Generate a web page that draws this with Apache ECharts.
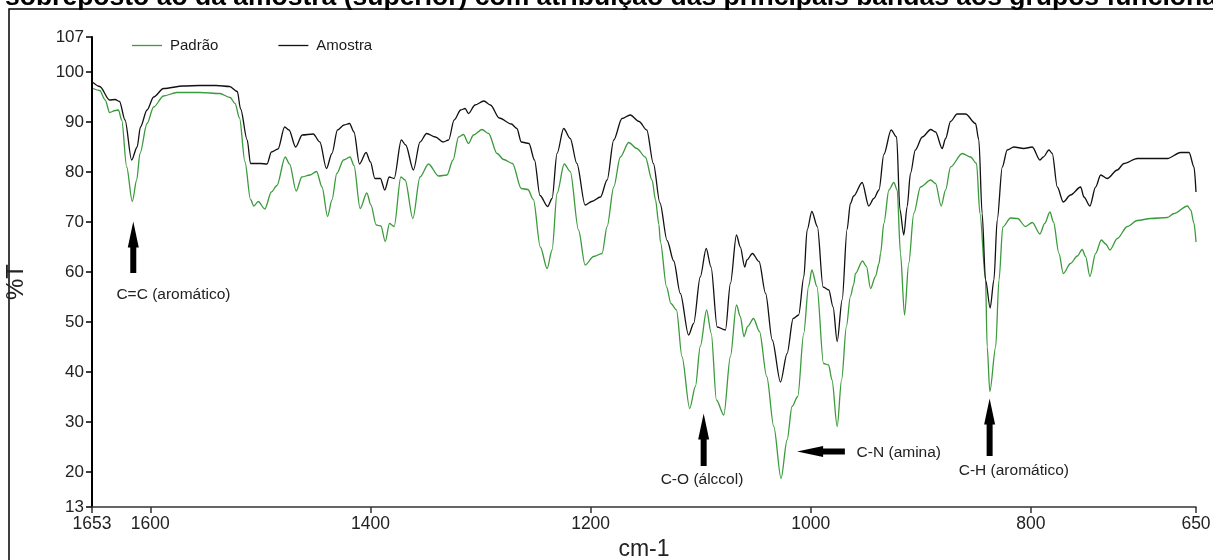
<!DOCTYPE html>
<html>
<head>
<meta charset="utf-8">
<script src="https://cdn.jsdelivr.net/npm/echarts@6/dist/echarts.min.js"></script>
<style>
  html, body { margin: 0; padding: 0; background: #fff; }
  #chart { width: 1213px; height: 560px; }
</style>
</head>
<body>
<div id="chart"></div>
<script>
// Amostra (black) - wavenumber (cm-1) / %T
const amostraWn = [1652, 1646, 1637, 1632, 1628, 1623, 1617, 1612, 1609, 1603, 1597, 1588, 1570, 1555, 1540, 1528, 1521, 1518, 1512, 1509,
  1500, 1494, 1490, 1484, 1478, 1474, 1468, 1462, 1452, 1446, 1440, 1435, 1430, 1424, 1419, 1415, 1410, 1404, 1400, 1396,
  1391, 1387, 1383, 1378.5, 1372, 1368, 1361, 1355, 1349, 1341, 1334, 1329, 1324, 1318, 1314, 1311, 1305, 1297, 1291, 1283,
  1272, 1267, 1263, 1256, 1251, 1246, 1239, 1235, 1230.5, 1224.5, 1218.5, 1212.5, 1205, 1199, 1191, 1185, 1179, 1171.5, 1164, 1156,
  1149, 1143, 1137, 1130.5, 1124.5, 1118.5, 1111, 1106.4, 1100.4, 1095, 1090.6, 1085, 1077.5, 1073, 1067.5, 1064, 1060, 1058, 1053, 1047,
  1041, 1035, 1027.5, 1021.5, 1016, 1011, 1006.3, 1003.3, 999, 994, 988.8, 983.6, 979.7, 976, 971.5, 967, 964, 961, 953.3, 947.3,
  942.7, 938, 933.6, 927, 922, 919, 915.5, 912.4, 909.4, 905, 898.7, 891, 886.6, 880.6, 877.5, 873, 867, 859.4, 850.3, 847.3,
  844.3, 841.2, 837, 833.6, 830.6, 826, 821.5, 815.5, 806.4, 798.7, 791.8, 788.7, 783.6, 780.6, 776, 770.6, 764, 754.8, 751.8, 746.4,
  741.2, 736.6, 730.6, 721.5, 715.5, 703.3, 676, 664, 656.3, 651.8, 650];
const amostraT = [97.9, 97.1, 94.4, 94.5, 94.1, 90.4, 82.4, 85, 89, 92.4, 95, 96.7, 97.2, 97.3, 97.3, 97.1, 96.1, 92.6, 86.4, 81.7,
  81.7, 81.6, 84, 84.6, 89, 88.4, 85, 87.4, 87.6, 86, 80.7, 83.7, 88.4, 89.4, 89.7, 88, 81.6, 83.9, 82, 78.7,
  78.7, 76.4, 79, 78.7, 86.4, 85.4, 80.4, 86, 87.7, 87, 86, 86.4, 90.4, 92.4, 92.7, 91.7, 93.4, 94.2, 93.4, 90.8,
  89.6, 88.7, 86, 85.7, 82.4, 75.3, 73.1, 74.7, 83.7, 88.7, 86.7, 81.7, 73.4, 74.1, 75, 78.4, 86.4, 90.7, 91.4, 90.1,
  88.4, 81.7, 73.8, 66.3, 62.2, 55.7, 47.4, 49.7, 59, 64.7, 61, 49, 48.4, 57.7, 67.4, 65, 61, 62.4, 63.7, 62.1,
  55.7, 46.4, 38, 43.7, 50.7, 51.4, 59, 68.4, 72.1, 69.1, 57, 56.4, 53, 46.1, 54.4, 68.5, 73.7, 75.2, 77.9, 73.2,
  74.7, 76.4, 83.5, 88.4, 87, 72.5, 67.4, 73.1, 79.7, 84.4, 87, 88.5, 88, 84.7, 86.7, 90.1, 91.6, 91.6, 89.7, 86.4,
  71.7, 58.4, 52.8, 58.4, 70.4, 81, 84.4, 85, 84.7, 85, 82.4, 83, 84.4, 83.7, 77, 74, 75.4, 77, 75, 73.2,
  77, 79.4, 78.7, 80.4, 81.7, 82.7, 82.7, 83.9, 83.9, 81, 76];

// Padrao (green)
const padraoWn = [1652, 1646, 1641, 1637, 1632, 1629, 1626, 1621.5, 1616.4, 1612.4, 1609.4, 1603, 1597, 1588, 1576, 1555, 1537, 1527.5, 1523, 1519,
  1514, 1509, 1506, 1502, 1496, 1490, 1485, 1477.5, 1473.5, 1467.5, 1462.4, 1455, 1449, 1444, 1439, 1435, 1430.6, 1424.5, 1418.5, 1415,
  1409.4, 1403.3, 1399.6, 1394.8, 1390.5, 1386.6, 1382.7, 1378.5, 1372.4, 1368.5, 1361.5, 1355, 1347.3, 1338.2, 1330.5, 1325, 1320, 1315.5, 1311, 1306.4,
  1298.7, 1292.7, 1285, 1279, 1271, 1263, 1257, 1252, 1245.7, 1239.5, 1235, 1230.5, 1224, 1218.5, 1211, 1205, 1197.3, 1189.6, 1185, 1179,
  1173, 1165.4, 1158, 1150.3, 1144.2, 1141, 1138, 1136.6, 1131, 1127, 1122, 1117, 1110, 1104.8, 1100.4, 1094.6, 1090.4, 1085.7, 1079, 1073,
  1067.5, 1064, 1060.7, 1057.3, 1052, 1046.6, 1040, 1033.6, 1027, 1021.5, 1017, 1011.8, 1006.4, 1002, 999, 994.4, 988.4, 983.8, 980.7, 976,
  972, 967.6, 964, 961, 959.4, 953, 949.4, 945.7, 941.2, 938, 936.6, 933.6, 929, 924.5, 921.5, 918.5, 914.8, 911, 906.4, 900.3,
  891, 886.6, 881.5, 877.5, 873, 862.4, 854.8, 849.4, 846.3, 841.2, 839.7, 837.3, 832, 829, 825.5, 818.5, 812, 805, 798.7, 791.8,
  787.5, 782.7, 779.5, 774.5, 770.6, 764, 757.8, 753.4, 750.3, 746.4, 741.2, 736, 732, 728.2, 721.5, 712.4, 703.3, 691.2, 676, 670,
  657.8, 654.8, 651.8, 650];
const padraoT = [96.7, 96.3, 94.4, 91.9, 92.3, 92.4, 90.4, 81, 74.1, 78.4, 83.7, 89.7, 93, 95.2, 95.9, 95.9, 95.7, 94.9, 93.7, 90.8,
  82, 74.5, 73.2, 74.1, 72.6, 76, 77.3, 83, 81.6, 76.2, 79, 79.4, 80.1, 77, 71.1, 74.4, 79.7, 82.4, 83, 81.3,
  72.7, 75.8, 73.4, 69.4, 69.2, 66.1, 69.7, 69.1, 79, 78.4, 70.7, 79, 81.6, 79.2, 79.4, 82.4, 87, 87.5, 85.7, 87.4,
  88.5, 87.7, 83.7, 82.5, 81.7, 76.7, 76.5, 74.5, 65, 60.7, 64.4, 75.7, 81.6, 80.1, 68.4, 61.4, 63.1, 63.7, 69.1, 77,
  83, 85.9, 84.7, 83, 78.4, 74.4, 69.5, 66, 57, 53.7, 52.4, 43.1, 32.7, 37.1, 45.1, 52.4, 47.7, 34.4, 31.4, 43.1,
  53.4, 51.1, 47.1, 49.1, 50.7, 48.1, 39.1, 29.1, 18.7, 26.4, 33.1, 35.1, 47.7, 57.1, 60.4, 57.1, 41.7, 41.4, 38.4, 29.1,
  38.4, 49.1, 55.1, 57.5, 59.7, 62.2, 61.1, 56.7, 59.1, 61.7, 63.7, 69.7, 76.4, 77.9, 76.4, 63.7, 51.4, 61.7, 71.7, 77,
  78.4, 77.7, 73.2, 76.4, 81, 83.7, 83, 81.7, 71.7, 58.4, 45, 36.1, 45, 58.4, 69, 70.8, 70.7, 69.1, 69.9, 67.6,
  69.7, 72, 70, 63.7, 59.7, 61.7, 63.2, 64.5, 63.1, 59.1, 63.7, 66.4, 65.6, 64.4, 66.7, 69.1, 70.3, 70.7, 70.9, 71.7,
  73.2, 72.4, 69.7, 66];

// tick labels
const xTicks = [1653, 1600, 1400, 1200, 1000, 800, 650];
const yTicks = [13, 20, 30, 40, 50, 60, 70, 80, 90, 100, 107];

// band assignments: arrow tail -> tip, label anchor (data coords)
const bandNames = ['C=C (aromático)', 'C-O (álccol)', 'C-N (amina)', 'C-H (aromático)'];
const bandTailWn = [1615.5, 1097.3, 969, 837.5];
const bandTailT = [59.8, 21.2, 24.1, 23.2];
const bandTipWn = [1615.5, 1097.3, 1012.4, 837.5];
const bandTipT = [70.1, 31.7, 24.1, 34.7];
const bandLabelWn = [1579, 1098.8, 920, 815.5];
const bandLabelT = [55.4, 18.4, 23.9, 20.3];

const sans = '"Liberation Sans", Arial, sans-serif';

const zip = (a, b) => a.map((v, i) => [v, b[i]]);
const bands = bandNames.map((n, i) => [bandTailWn[i], bandTailT[i], bandTipWn[i], bandTipT[i], bandLabelWn[i], bandLabelT[i]]);

function renderArrow(params, api) {
  const tail = api.coord([api.value(0), api.value(1)]);
  const tip = api.coord([api.value(2), api.value(3)]);
  const lab = api.coord([api.value(4), api.value(5)]);
  const dx = tip[0] - tail[0], dy = tip[1] - tail[1];
  const len = Math.sqrt(dx * dx + dy * dy) || 1;
  const ux = dx / len, uy = dy / len;
  const nx = -uy, ny = ux;
  const HL = 26, HW = 5.5, SW = 3;
  const bx = tip[0] - ux * HL, by = tip[1] - uy * HL;
  const pts = [
    [tip[0], tip[1]],
    [bx + nx * HW, by + ny * HW],
    [bx + nx * SW, by + ny * SW],
    [tail[0] + nx * SW, tail[1] + ny * SW],
    [tail[0] - nx * SW, tail[1] - ny * SW],
    [bx - nx * SW, by - ny * SW],
    [bx - nx * HW, by - ny * HW]
  ];
  return {
    type: 'group',
    children: [
      { type: 'polygon', shape: { points: pts }, style: { fill: '#000' } },
      {
        type: 'text',
        style: {
          x: lab[0], y: lab[1], text: bandNames[params.dataIndex],
          fill: '#222', font: '15.5px ' + sans,
          align: 'center', verticalAlign: 'middle'
        }
      }
    ]
  };
}

const chart = echarts.init(document.getElementById('chart'));
chart.setOption({
  backgroundColor: '#fff',
  animation: false,
  title: {
    text: 'sobreposto ao da amostra (superior) com atribuição das principais bandas aos grupos funcionais',
    left: 0,
    top: -21,
    textStyle: { fontFamily: sans, fontWeight: 'bold', fontSize: 26.5, color: '#000' }
  },
  graphic: [{
    type: 'rect', z: -1, silent: true,
    shape: { x: 9, y: 9, width: 1300, height: 700 },
    style: { fill: 'none', stroke: '#000', lineWidth: 1.5 }
  }],
  legend: {
    data: ['Padrão', 'Amostra'],
    left: 127, top: 33,
    icon: 'path://M0,0 L30,0 L30,1.3 L0,1.3 Z',
    itemWidth: 30, itemHeight: 1.3, itemGap: 60,
    textStyle: { fontFamily: sans, fontSize: 15, color: '#1a1a1a', padding: [0, 0, 0, 3] }
  },
  grid: { left: 92, right: 17, top: 37, bottom: 53, outerBoundsMode: 'none' },
  xAxis: {
    type: 'value', min: 650, max: 1653, inverse: true,
    name: 'cm-1', nameLocation: 'middle', nameGap: 31,
    nameTextStyle: { fontFamily: sans, fontSize: 23, color: '#222' },
    axisLine: { show: true, lineStyle: { color: '#333', width: 1.5 } },
    axisTick: { show: true, length: 6, customValues: xTicks, lineStyle: { color: '#333', width: 1.5 } },
    axisLabel: { customValues: xTicks, margin: 8, fontFamily: sans, fontSize: 17.5, color: '#222', formatter: (v) => String(v) },
    splitLine: { show: false }
  },
  yAxis: {
    type: 'value', min: 13, max: 107,
    name: '%T', nameLocation: 'middle', nameGap: 64, nameRotate: 90,
    nameTextStyle: { fontFamily: sans, fontSize: 24, color: '#222', padding: [0, 20, 0, 0] },
    axisLine: { show: true, lineStyle: { color: '#000', width: 2 } },
    axisTick: { show: true, length: 6, customValues: yTicks, lineStyle: { color: '#000', width: 1.5 } },
    axisLabel: { customValues: yTicks, margin: 8, fontFamily: sans, fontSize: 17, color: '#222', formatter: (v) => String(v) },
    splitLine: { show: false }
  },
  series: [
    {
      name: 'Padrão', type: 'line', data: zip(padraoWn, padraoT),
      symbol: 'none', smooth: 0.3, smoothMonotone: 'x',
      lineStyle: { color: '#3b9a3b', width: 1.3 }, itemStyle: { color: '#3b9a3b' }
    },
    {
      name: 'Amostra', type: 'line', data: zip(amostraWn, amostraT),
      symbol: 'none', smooth: 0.3, smoothMonotone: 'x',
      lineStyle: { color: '#111', width: 1.3 }, itemStyle: { color: '#111' }
    },
    {
      type: 'custom', name: 'bandas', data: bands, clip: false, silent: true, z: 10,
      encode: { x: [0, 2, 4], y: [1, 3, 5] },
      renderItem: renderArrow
    }
  ]
});
</script>
</body>
</html>
